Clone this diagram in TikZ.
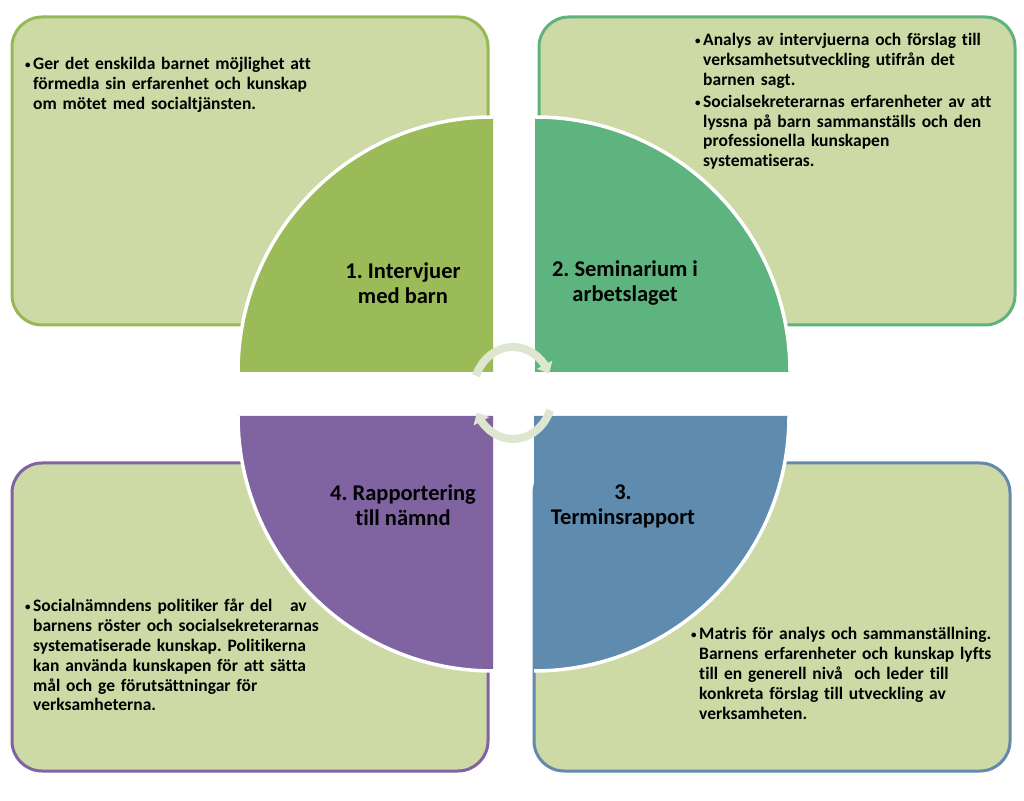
\documentclass[tikz,border=0pt]{standalone}
\usepackage{fontspec}
\setmainfont{Carlito}[Ligatures=NoCommon]
\usetikzlibrary{arrows.meta,bending}
\frenchspacing
\definecolor{fyllning}{RGB}{205,218,166}
\definecolor{fasA}{RGB}{155,187,89}
\definecolor{fasB}{RGB}{93,180,126}
\definecolor{fasC}{RGB}{95,140,174}
\definecolor{fasD}{RGB}{128,100,162}
\definecolor{kantA}{RGB}{150,185,85}
\definecolor{kantB}{RGB}{95,178,125}
\definecolor{kantC}{RGB}{100,137,172}
\definecolor{kantD}{RGB}{128,100,162}
\definecolor{ring}{RGB}{222,230,208}
\newcommand{\punkt}{\par\hangindent=8pt\hangafter=1\noindent
  \makebox[8pt][l]{\raisebox{1pt}{\fontsize{11}{11}\selectfont\textbullet}}}

\begin{document}
\begin{tikzpicture}[x=1pt, y=1pt,
  ruta/.style={line width=3pt, fill=fyllning, rounded corners=30pt,
    minimum width=476pt, minimum height=308pt, inner sep=0pt},
  rubrik/.style={font=\fontsize{22.5}{25}\selectfont\bfseries, align=center},
  brodtext/.style={font=\fontsize{17.5}{19.8}\selectfont\bfseries,
    text width=330pt, inner sep=0pt, anchor=north west},
  pil/.style={draw=ring, line width=8pt, -{Triangle[width=17pt,length=10pt]}}]
  \useasboundingbox (0,0) rectangle (1024,800);
  % Rutor
  \node[ruta, draw=kantA] (rutaA) at (250,629) {};
  \node[ruta, draw=kantB] (rutaB) at (777,629) {};
  \node[ruta, draw=kantC] (rutaC) at (772,183) {};
  \node[ruta, draw=kantD] (rutaD) at (250,183) {};
  % Kvartscirklar
  \foreach \x/\y/\v/\f in {493/428/90/fasA, 535/428/0/fasB,
                           534/384/270/fasC, 493/384/180/fasD} {
    \fill[\f] (\x,\y) -- ++(\v:255) arc[start angle=\v, delta angle=90, radius=255] -- cycle;
    \draw[white, line width=3.5pt] (\x,\y) ++(\v:255)
      arc[start angle=\v, delta angle=90, radius=255];
  }
  % Cirkelpilar
  \coordinate (mitt) at (513,407);
  \draw[pil] (mitt) ++(158:40 and 46) arc[start angle=158, end angle=25, x radius=40, y radius=46];
  \draw[pil] (mitt) ++(-22:40 and 46) arc[start angle=-22, end angle=-155, x radius=40, y radius=46];
  % Rubriker
  \node[rubrik] (rubrikA) at (403,517) {1. Intervjuer\\med barn};
  \node[rubrik] (rubrikB) at (625,517) {2. Seminarium i\\arbetslaget};
  \node[rubrik] (rubrikC) at (623,294) {3.\\Terminsrapport};
  \node[rubrik] (rubrikD) at (403,295) {4. Rapportering\\till nämnd};
  % Punkter
  \node[brodtext] (textA) at (25,750)
    {\punkt Ger det enskilda barnet möjlighet att\newline förmedla sin erfarenhet och kunskap\newline om mötet med socialtjänsten.\par};
  \node[brodtext] (textB) at (695,776)
    {\setlength{\parskip}{2pt}\punkt Analys av intervjuerna och förslag till\newline verksamhetsutveckling utifrån det\newline barnen sagt.
     \punkt Socialsekreterarnas erfarenheter av att\newline lyssna på barn sammanställs och den\newline professionella kunskapen\newline systematiseras.\par};
  \node[brodtext] (textC) at (691,180)
    {\punkt Matris för analys och sammanställning.\newline Barnens erfarenheter och kunskap lyfts\newline till en generell nivå\ \ och leder till\newline konkreta förslag till utveckling av\newline verksamheten.\par};
  \node[brodtext] (textD) at (25,208)
    {\punkt Socialnämndens politiker får del\ \ \ av\newline barnens röster och socialsekreterarnas\newline systematiserade kunskap. Politikerna\newline kan använda kunskapen för att sätta\newline mål och ge förutsättningar för\newline verksamheterna.\par};
\end{tikzpicture}
\end{document}
